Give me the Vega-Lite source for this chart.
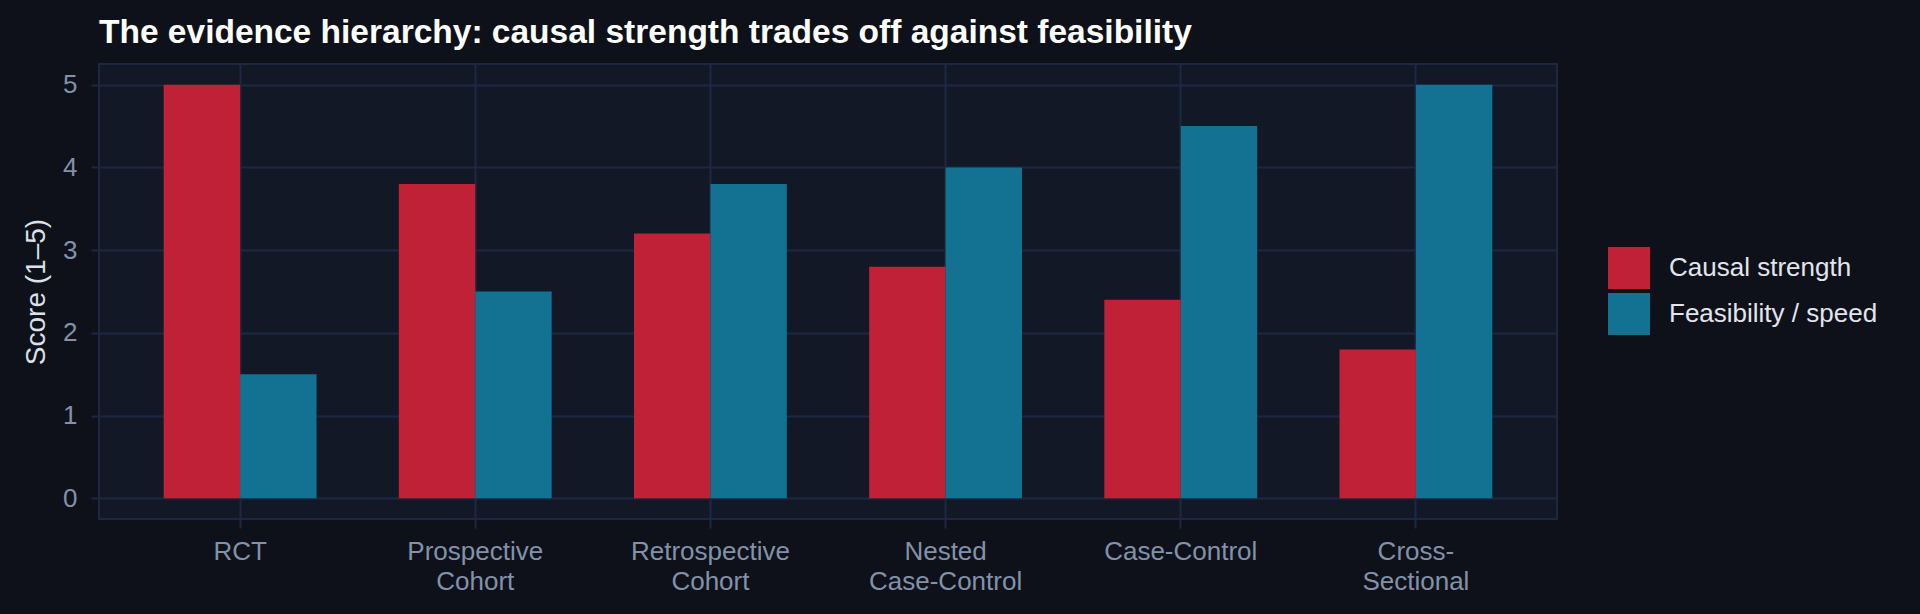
{
  "$schema": "https://vega.github.io/schema/vega-lite/v6.json",
  "width": 1458,
  "height": 455,
  "autosize": {"type": "none"},
  "padding": {"left": 99, "top": 64, "right": 363, "bottom": 95},
  "background": "#0E111A",
  "title": {
    "text": "The evidence hierarchy: causal strength trades off against feasibility",
    "anchor": "start",
    "frame": "group",
    "font": "Liberation Sans",
    "fontSize": 33.5,
    "fontWeight": "bold",
    "color": "#FFFFFF",
    "offset": 14
  },
  "data": {
    "values": [
      {"design": "RCT", "measure": "Causal strength", "score": 5.0},
      {"design": "RCT", "measure": "Feasibility / speed", "score": 1.5},
      {"design": "Prospective Cohort", "measure": "Causal strength", "score": 3.8},
      {"design": "Prospective Cohort", "measure": "Feasibility / speed", "score": 2.5},
      {"design": "Retrospective Cohort", "measure": "Causal strength", "score": 3.2},
      {"design": "Retrospective Cohort", "measure": "Feasibility / speed", "score": 3.8},
      {"design": "Nested Case-Control", "measure": "Causal strength", "score": 2.8},
      {"design": "Nested Case-Control", "measure": "Feasibility / speed", "score": 4.0},
      {"design": "Case-Control", "measure": "Causal strength", "score": 2.4},
      {"design": "Case-Control", "measure": "Feasibility / speed", "score": 4.5},
      {"design": "Cross-Sectional", "measure": "Causal strength", "score": 1.8},
      {"design": "Cross-Sectional", "measure": "Feasibility / speed", "score": 5.0}
    ]
  },
  "mark": {"type": "bar"},
  "encoding": {
    "x": {
      "field": "design",
      "type": "nominal",
      "sort": null,
      "title": null,
      "scale": {"paddingInner": 0.35, "paddingOuter": 0.275},
      "axis": {
        "bandPosition": 0.5,
        "labelAngle": 0,
        "labelExpr": "datum.label == 'Cross-Sectional' ? ['Cross-', 'Sectional'] : split(datum.label, ' ')",
        "labelLineHeight": 30,
        "labelPadding": 10,
        "tickSize": 9
      }
    },
    "xOffset": {
      "field": "measure",
      "type": "nominal",
      "scale": {"paddingInner": 0, "paddingOuter": 0}
    },
    "y": {
      "field": "score",
      "type": "quantitative",
      "title": "Score (1–5)",
      "scale": {"domain": [-0.25, 5.25], "nice": false, "zero": false},
      "axis": {"values": [0, 1, 2, 3, 4, 5], "tickSize": 8, "labelPadding": 14, "titlePadding": 12}
    },
    "color": {
      "field": "measure",
      "type": "nominal",
      "title": null,
      "scale": {"range": ["#C02136", "#137192"]},
      "legend": {
        "orient": "none",
        "legendX": 1509,
        "legendY": 183,
        "symbolType": "square",
        "symbolSize": 1764,
        "symbolStrokeWidth": 0,
        "symbolOpacity": 1,
        "labelOffset": 19,
        "labelLimit": 0,
        "rowPadding": 4
      }
    }
  },
  "config": {
    "font": "Liberation Sans",
    "view": {"fill": "#121826", "stroke": "#1C2842", "strokeWidth": 2},
    "axis": {
      "domain": false,
      "grid": true,
      "gridColor": "#1C2842",
      "gridWidth": 2,
      "gridOpacity": 1,
      "tickColor": "#1C2842",
      "tickWidth": 2,
      "labelColor": "#8391A9",
      "labelFont": "Liberation Sans",
      "labelFontSize": 26,
      "titleColor": "#DCE0E8",
      "titleFont": "Liberation Sans",
      "titleFontSize": 28,
      "titleFontWeight": "normal"
    },
    "legend": {
      "labelColor": "#E2E5EC",
      "labelFont": "Liberation Sans",
      "labelFontSize": 26
    }
  }
}
